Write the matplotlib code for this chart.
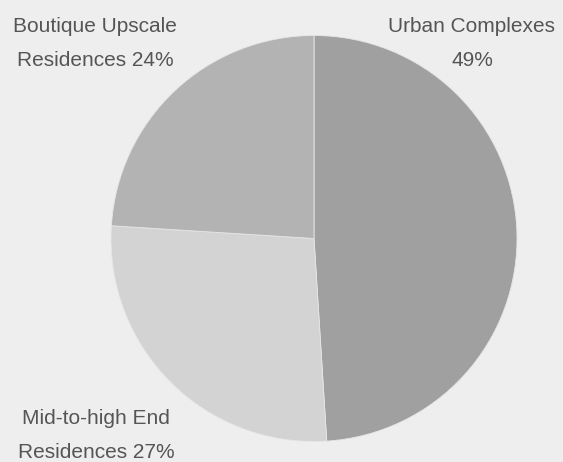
import matplotlib
matplotlib.use("Agg")
import matplotlib.pyplot as plt

# ── Data ──────────────────────────────────────────────────────────────────────
categories = ["Urban Complexes", "Mid-to-high End Residences", "Boutique Upscale Residences"]
shares = [49, 27, 24]
colors = ["#a0a0a0", "#d3d3d3", "#b3b3b3"]
label_texts = ["Urban Complexes\n49%", "Mid-to-high End\nResidences 27%",
               "Boutique Upscale\nResidences 24%"]
# label centres in figure pixels (x, y from top)
label_pos = [(472, 43), (96, 436), (95, 43)]

W, H = 563, 462
BG = "#eeeeee"

fig = plt.figure(figsize=(W / 100, H / 100), dpi=100, facecolor=BG)

cx, cy, r = 314, 238.5, 203
ax = fig.add_axes([(cx - r) / W, (H - cy - r) / H, 2 * r / W, 2 * r / H])
ax.set_facecolor(BG)
ax.pie(shares, colors=colors, startangle=90, counterclock=False, radius=1,
       wedgeprops=dict(edgecolor="#e6e6e6", linewidth=0.6))
ax.set_xlim(-1, 1)
ax.set_ylim(-1, 1)
ax.set_aspect("equal")
ax.axis("off")

for txt, (x, y) in zip(label_texts, label_pos):
    fig.text(x / W, 1 - y / H, txt, ha="center", va="center",
             fontsize=15, color="#555555", linespacing=2.0,
             family=["Liberation Sans", "DejaVu Sans"])

fig.savefig("out.png", dpi=100, facecolor=BG)
